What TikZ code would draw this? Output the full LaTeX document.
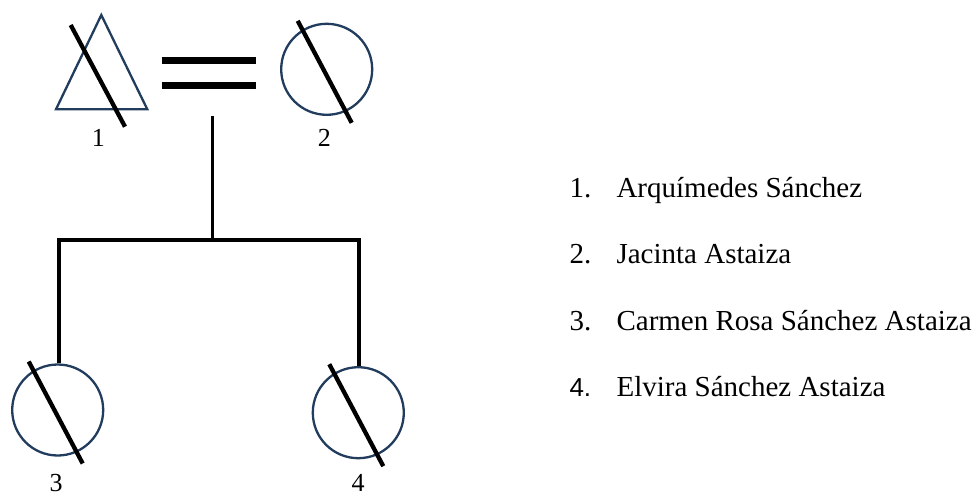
\documentclass[tikz,border=0pt]{standalone}
\usepackage{fontspec}
\setmainfont{Liberation Serif}
\newfontfamily\numsans{Liberation Sans}
\usetikzlibrary{positioning}

\definecolor{azul}{RGB}{33,60,92}

\tikzset{
  mujer/.style={circle, draw=azul, line width=2.3pt, minimum size=91pt, inner sep=0pt},
  varon/.style={draw=azul, line width=2.3pt, line join=miter},
  tacha/.style={line width=4.3pt, black},
  enlace/.style={line width=3.4pt, black},
  etiqueta/.style={font=\fontsize{26}{26}\selectfont},
  lista/.style={anchor=base west, font=\fontsize{29}{30}\selectfont},
}

\begin{document}
\begin{tikzpicture}[x=1pt, y=-1pt]

  %% ════ personas ════
  \coordinate (p1) at (101.5,62.0);
  \draw[varon] (101.3,15.0) -- (147.3,109.3) -- (56.0,109.3) -- cycle;
  \node[mujer] (p2) at (326.7,69.3) {};
  \node[mujer] (p3) at (57.7,410.0) {};
  \node[mujer] (p4) at (358.3,412.7) {};

  %% ════ tachas (fallecidos) ════
  \draw[tacha] ([shift={(-30.8,-37.0)}]p1) -- ([shift={(23.5,64.7)}]p1);
  \foreach \p in {p2,p3,p4}
    \draw[tacha] ([shift={(-29.0,-48.5)}]\p.center) -- ([shift={(25.0,53.5)}]\p.center);

  %% ════ matrimonio y descendencia ════
  \coordinate (casA) at (161.7,60.0);
  \coordinate (casB) at (256.0,85.0);
  \draw[line width=7pt] (casA) -- (casA -| casB);
  \draw[line width=7pt] (casA |- casB) -- (casB);
  \coordinate (union) at (212.3,116.0);
  \coordinate (hijos) at (212.3,240.0);
  \draw[enlace] (union) -- (hijos);
  \draw[enlace] ([xshift=1.3pt]p3.north) |- (hijos) -| ([xshift=0.7pt]p4.north);

  %% ════ numeros ════
  \node[etiqueta] (l1) at (98.3,138.0) {1};
  \node[etiqueta] (l2) at (324.3,138.0) {2};
  \node[etiqueta] (l3) at (56.0,483.0) {3};
  \node[etiqueta] (l4) at (358.0,483.0) {4};

  %% ════ lista de nombres ════
  \node[lista] (n1) at (566,197.0) {1.};
  \node[lista] (t1) at (613,197.0) {Arquímedes Sánchez};
  \node[lista] (n2) at (566,263.5) {2.};
  \node[lista] (t2) at (613,263.5) {Jacinta Astaiza};
  \node[lista] (n3) at (566,330.0) {3.};
  \node[lista] (t3) at (613,330.0) {Carmen Rosa Sánchez Astaiza};
  \node[lista, font=\numsans\fontsize{26}{30}\selectfont] (n4) at (566,396.5) {4.};
  \node[lista] (t4) at (613,396.5) {Elvira Sánchez Astaiza};

  % lienzo fijo
  \pgfresetboundingbox
  \path[use as bounding box] (0,0) rectangle (975,496);
\end{tikzpicture}
\end{document}
